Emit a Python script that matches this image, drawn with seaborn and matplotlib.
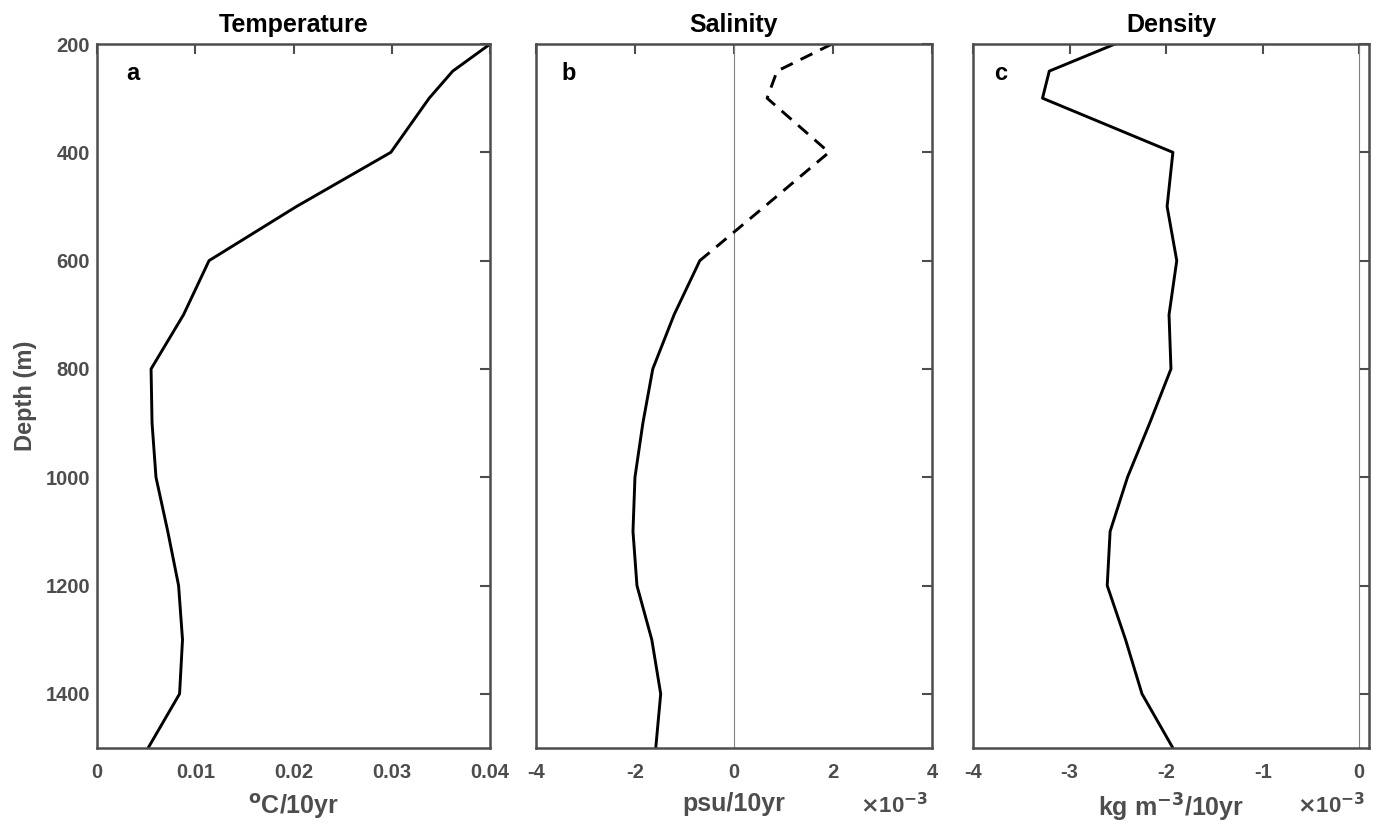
import numpy as np
import pandas as pd
import matplotlib
matplotlib.use('Agg')
import matplotlib.pyplot as plt
import seaborn as sns

# Depth levels (m)
depth = [200, 250, 300, 400, 500, 600, 700, 800, 900, 1000, 1100, 1200, 1300, 1400, 1500]

# Trends per decade
temperature = [0.0400, 0.0362, 0.0338, 0.0299, 0.0203, 0.0114, 0.0088, 0.0055,
               0.0056, 0.0060, 0.0072, 0.0083, 0.0087, 0.0084, 0.0052]
# salinity and density in units of 1e-3
salinity = [1.98, 0.87, 0.67, 1.92, 0.62, -0.69, -1.21, -1.64,
            -1.84, -2.00, -2.04, -1.96, -1.66, -1.48, -1.58]
density = [-2.53, -3.21, -3.28, -1.93, -1.99, -1.89, -1.97, -1.95,
           -2.17, -2.40, -2.58, -2.61, -2.42, -2.25, -1.93]

# salinity is dashed above 600 m
sal_break = 600

sns.set_theme(style='white')
plt.rcParams['font.family'] = ['Liberation Sans', 'DejaVu Sans']
plt.rcParams['font.weight'] = 'bold'
plt.rcParams['axes.unicode_minus'] = False

gray = '#4d4d4d'
df = pd.DataFrame({'depth': depth, 'temp': temperature, 'sal': salinity, 'dens': density})

fig = plt.figure(figsize=(13.86, 8.31), dpi=100)
ax_a = fig.add_axes([0.0700, 0.0999, 0.2836, 0.8471])
ax_b = fig.add_axes([0.3867, 0.0999, 0.2857, 0.8471])
ax_c = fig.add_axes([0.7020, 0.0999, 0.2857, 0.8471])

# a: temperature
sns.lineplot(data=df, x='temp', y='depth', orient='y', color='black', lw=2.1, ax=ax_a)
ax_a.set_xlim(0, 0.04)
ax_a.set_xticks([0, 0.01, 0.02, 0.03, 0.04])
ax_a.set_xticklabels(['0', '0.01', '0.02', '0.03', '0.04'])
ax_a.set_xlabel('$\\mathbf{^{o}}$C/10yr')
ax_a.set_ylabel('Depth (m)')
ax_a.set_title('Temperature')

# b: salinity
upper = df[df['depth'] <= sal_break]
lower = df[df['depth'] >= sal_break]
ax_b.axvline(0, color='#808080', lw=0.8)
sns.lineplot(data=upper, x='sal', y='depth', orient='y', color='black', lw=2.1,
             linestyle=(0, (4.5, 3)), ax=ax_b)
sns.lineplot(data=lower, x='sal', y='depth', orient='y', color='black', lw=2.1, ax=ax_b)
ax_b.set_xlim(-4, 4)
ax_b.set_xticks([-4, -2, 0, 2, 4])
ax_b.set_xlabel('psu/10yr')
ax_b.set_ylabel('')
ax_b.set_title('Salinity')

# c: density
ax_c.axvline(0, color='#808080', lw=0.8)
sns.lineplot(data=df, x='dens', y='depth', orient='y', color='black', lw=2.1, ax=ax_c)
ax_c.set_xlim(-4, 0.1)
ax_c.set_xticks([-4, -3, -2, -1, 0])
ax_c.set_xlabel('kg m$\\mathbf{^{-3}}$/10yr')
ax_c.set_ylabel('')
ax_c.set_title('Density')

label_x = {'a': 0.092, 'b': 0.082, 'c': 0.07}
for ax, lab in zip([ax_a, ax_b, ax_c], ['a', 'b', 'c']):
    ax.set_ylim(1500, 200)
    ax.set_yticks([200, 400, 600, 800, 1000, 1200, 1400])
    ax.tick_params(direction='in', length=7, width=1.5, top=True, right=True,
                   colors=gray, labelsize=14.5)
    ax.tick_params(axis='x', pad=11)
    ax.tick_params(axis='y', pad=5)
    for lbl in ax.get_xticklabels() + ax.get_yticklabels():
        lbl.set_fontweight('bold')
    for s in ax.spines.values():
        s.set_color(gray)
        s.set_linewidth(1.8)
    ax.xaxis.label.set_color(gray)
    ax.xaxis.label.set_fontsize(18)
    ax.xaxis.label.set_fontweight('bold')
    ax.xaxis.labelpad = 7
    ax.yaxis.label.set_color(gray)
    ax.yaxis.label.set_fontsize(17)
    ax.yaxis.label.set_fontweight('bold')
    ax.yaxis.labelpad = 6
    ax.set_title(ax.get_title(), pad=9, fontsize=18, fontweight='bold', color='black')
    ax.text(label_x[lab], 0.958, lab, transform=ax.transAxes, fontsize=17,
            fontweight='bold', ha='center', va='center', color='black')
    if lab != 'a':
        ax.set_yticklabels([])
    ax.grid(False)
    ax.legend_ = None

for ax in [ax_b, ax_c]:
    ax.text(0.99, -0.082, '$\\times$10$^{\\mathbf{-3}}$', transform=ax.transAxes,
            ha='right', va='center', fontsize=16, fontweight='bold', color=gray)

fig.savefig('out.png', dpi=100)
